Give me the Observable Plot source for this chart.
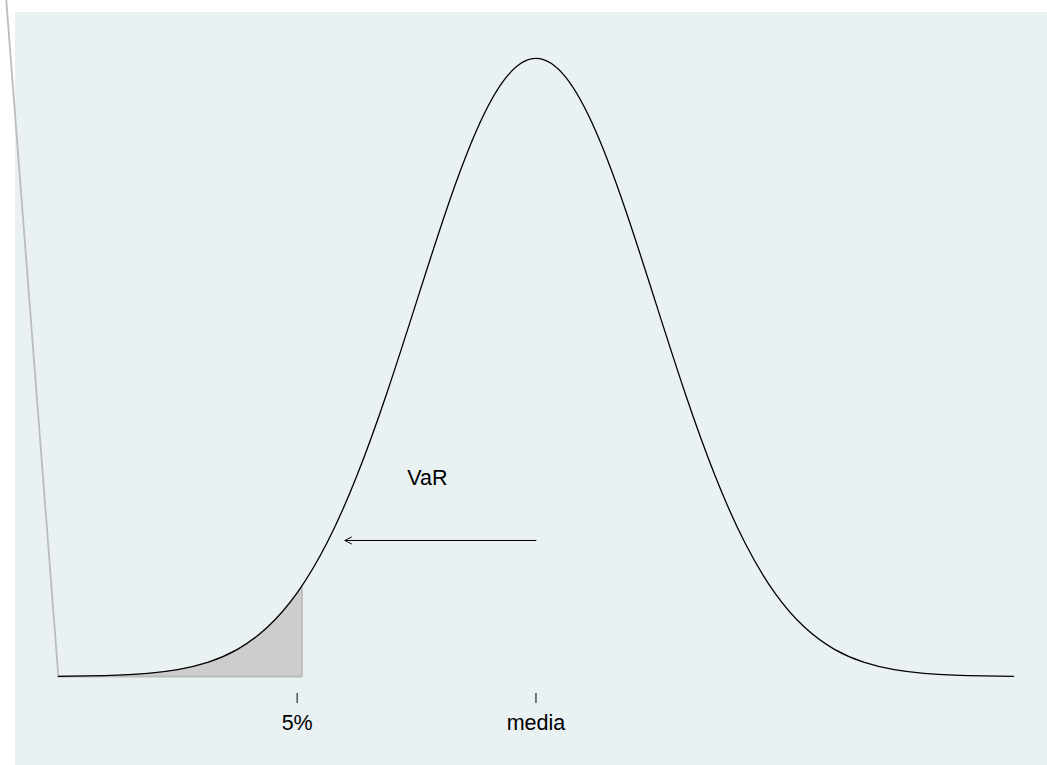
<!DOCTYPE html>
<html><head><meta charset="utf-8">
<script src="https://cdn.jsdelivr.net/npm/d3@7"></script>
<script src="https://cdn.jsdelivr.net/npm/@observablehq/plot@0.6"></script>
<style>
body{margin:0;background:#fff;}
#wrap{position:relative;width:1047px;height:765px;overflow:hidden;}
#panel{position:absolute;left:15px;top:12px;width:1032px;height:753px;background:#e9f1f3;}
#chart{position:absolute;left:0;top:0;}
</style></head><body>
<div id="wrap"><div id="panel"></div><div id="chart"></div></div>
<script>
// values (standard normal density)
const zValues = [-4,-3.75,-3.5,-3.25,-3,-2.75,-2.5,-2.25,-2,-1.75,-1.5,-1.25,-1,-0.75,-0.5,-0.25,0,0.25,0.5,0.75,1,1.25,1.5,1.75,2,2.25,2.5,2.75,3,3.25,3.5,3.75,4];
const density = [0.00013,0.00035,0.00087,0.00203,0.00443,0.00909,0.01753,0.03174,0.05399,0.08628,0.12952,0.18265,0.24197,0.30114,0.35207,0.38667,0.39894,0.38667,0.35207,0.30114,0.24197,0.18265,0.12952,0.08628,0.05399,0.03174,0.01753,0.00909,0.00443,0.00203,0.00087,0.00035,0.00013];
const shadeZ = [-4,-3.75,-3.5,-3.25,-3,-2.75,-2.5,-2.25,-2,-1.96];
const shadeDensity = [0.00013,0.00035,0.00087,0.00203,0.00443,0.00909,0.01753,0.03174,0.05399,0.05844];
const edgeZ = [-4.5,-4,-1.96,-1.96];
const edgeDensity = [0.5,0,0,0.05844];
const tickValues = [-2, 0];
const tickLabels = ["5%", "media"];
const arrowStart = [0], arrowEnd = [-1.6], arrowLevel = [0.0878];
const noteX = [-0.91], noteY = [0.128], noteText = ["VaR"];

const curve = zValues.map((z, i) => ({z, d: density[i]}));
const shade = shadeZ.map((z, i) => ({z, d: shadeDensity[i]}));
const edge = edgeZ.map((z, i) => ({z, d: edgeDensity[i]}));
const arrows = arrowStart.map((a, i) => ({x1: a, x2: arrowEnd[i], y: arrowLevel[i]}));
const notes = noteX.map((x, i) => ({x, y: noteY[i], t: noteText[i]}));

const plot = Plot.plot({
  width: 1047, height: 765,
  marginLeft: 15, marginTop: 12, marginRight: 0, marginBottom: 89,
  style: {fontFamily: "'Liberation Sans', Arial, sans-serif", background: "transparent", overflow: "visible"},
  x: {domain: [-4.359, 4.284], axis: null},
  y: {domain: [0, 0.42858], axis: null},
  marks: [
    Plot.areaY(shade, {x: "z", y: "d", fill: "#cdcdcd", curve: "natural"}),
    Plot.line(edge, {x: "z", y: "d", stroke: "#bcbcbc", strokeWidth: 1.8, clip: false}),
    Plot.line(curve, {x: "z", y: "d", stroke: "#000", strokeWidth: 1.3, curve: "natural"}),
    Plot.arrow(arrows, {x1: "x1", x2: "x2", y1: "y", y2: "y", stroke: "#000", strokeWidth: 1, headLength: 11, headAngle: 55}),
    Plot.text(notes, {x: "x", y: "y", text: "t", fontSize: 21.5, fill: "#000"}),
    Plot.axisX(tickValues, {anchor: "bottom", tickFormat: d => tickLabels[tickValues.indexOf(d)], tickSize: 10, tickPadding: 11, dy: 17, fontSize: 21.5, label: null, stroke: "#000", fill: "#000"})
  ]
});
document.getElementById("chart").appendChild(plot);
</script>
</body></html>
